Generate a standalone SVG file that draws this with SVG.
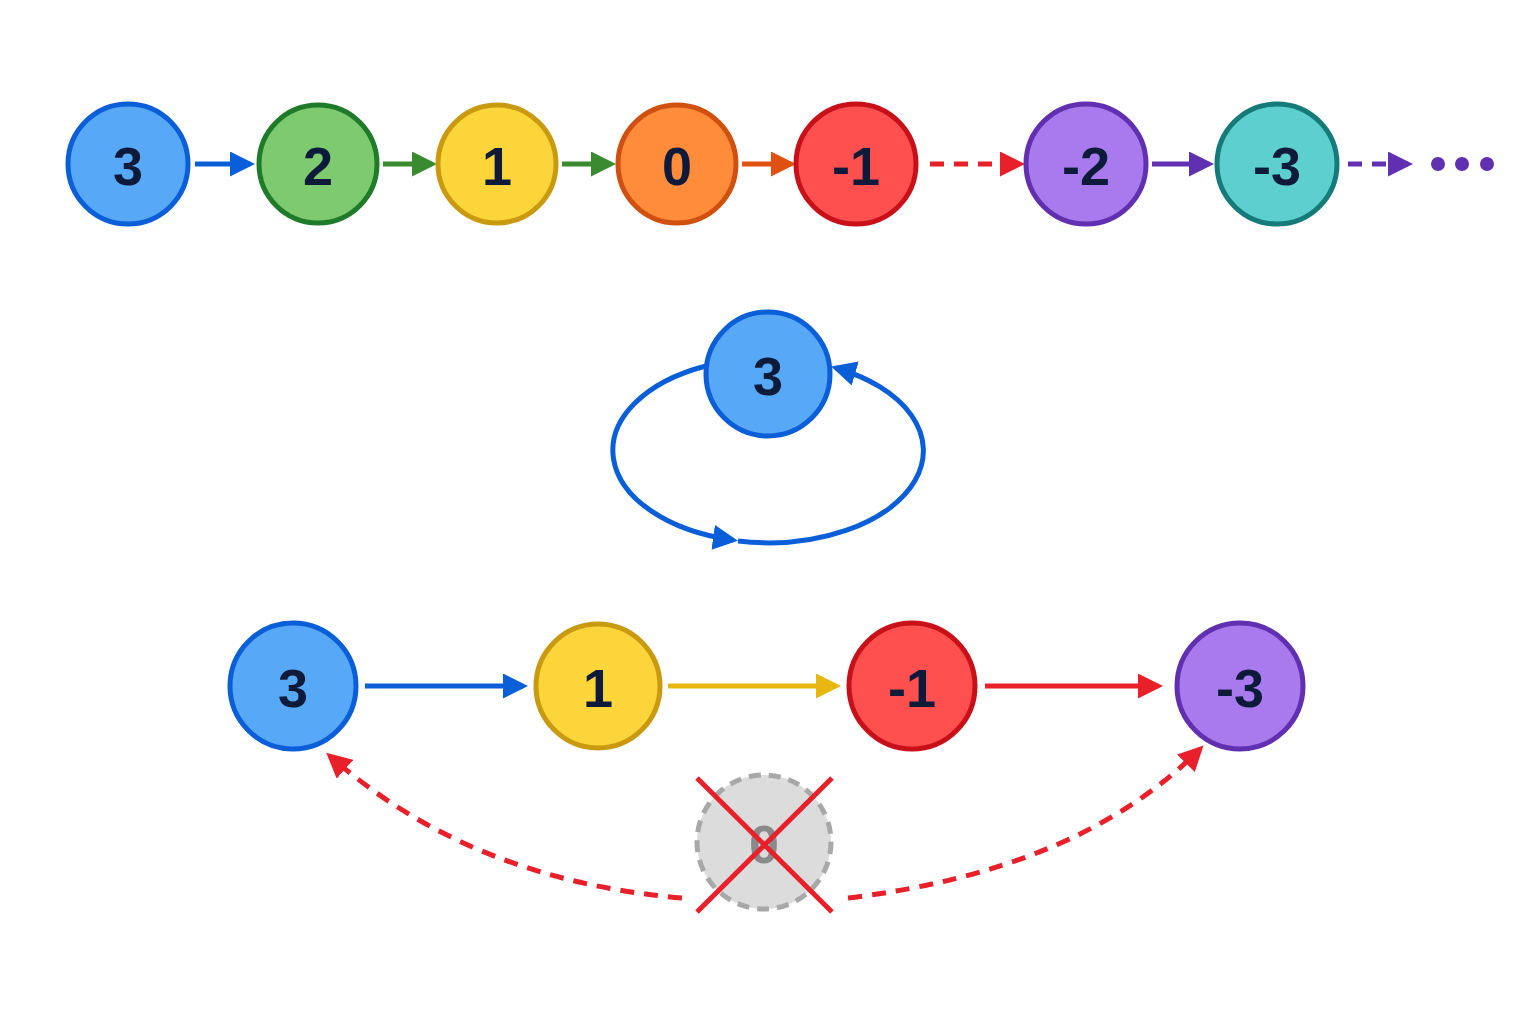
<svg xmlns="http://www.w3.org/2000/svg" width="1536" height="1024" viewBox="0 0 1536 1024">
<style>
circle{stroke-width:5}
text{font-family:"Liberation Sans",Arial,sans-serif;font-weight:bold;font-size:54px;fill:#0d1a3a;text-anchor:middle;dominant-baseline:central}
.c{fill:none;stroke-width:5}
.blue{fill:#58A8F8;stroke:#0A5FD8}.green{fill:#7DCB6E;stroke:#1F7A2A}.yellow{fill:#FBD53A;stroke:#C99A10}
.orange{fill:#FF8C3A;stroke:#D05010}.red{fill:#FF5050;stroke:#C81018}.purple{fill:#A87AEE;stroke:#6030B0}.teal{fill:#5ECFCF;stroke:#147A7A}
</style>
<defs>
<marker id="mb" viewBox="0 0 10 10" refX="8" refY="5" markerWidth="5" markerHeight="5" orient="auto"><path d="M0 0L10 5L0 10z" fill="#0A5FD8"/></marker>
<marker id="mg" viewBox="0 0 10 10" refX="8" refY="5" markerWidth="5" markerHeight="5" orient="auto"><path d="M0 0L10 5L0 10z" fill="#3A8A30"/></marker>
<marker id="mo" viewBox="0 0 10 10" refX="8" refY="5" markerWidth="5" markerHeight="5" orient="auto"><path d="M0 0L10 5L0 10z" fill="#E05010"/></marker>
<marker id="mr" viewBox="0 0 10 10" refX="8" refY="5" markerWidth="5" markerHeight="5" orient="auto"><path d="M0 0L10 5L0 10z" fill="#E8202A"/></marker>
<marker id="mp" viewBox="0 0 10 10" refX="8" refY="5" markerWidth="5" markerHeight="5" orient="auto"><path d="M0 0L10 5L0 10z" fill="#6030B0"/></marker>
<marker id="my" viewBox="0 0 10 10" refX="8" refY="5" markerWidth="5" markerHeight="5" orient="auto"><path d="M0 0L10 5L0 10z" fill="#E8B810"/></marker>
</defs>
<rect width="1536" height="1024" fill="#fff"/>
<g id="connectors">
<path class="c" stroke="#0A5FD8" d="M195 164H250" marker-end="url(#mb)"/>
<path class="c" stroke="#3A8A30" d="M383 164H432" marker-end="url(#mg)"/>
<path class="c" stroke="#3A8A30" d="M562 164H611" marker-end="url(#mg)"/>
<path class="c" stroke="#E05010" d="M742 164H791" marker-end="url(#mo)"/>
<path class="c" stroke="#E8202A" stroke-dasharray="14 10" d="M930 164H1020" marker-end="url(#mr)"/>
<path class="c" stroke="#6030B0" d="M1152 164H1209" marker-end="url(#mp)"/>
<path class="c" stroke="#6030B0" stroke-dasharray="14 10" d="M1348 164H1408" marker-end="url(#mp)"/>
<g fill="#6030B0"><circle cx="1438" cy="164" r="7" stroke="none"/><circle cx="1462" cy="164" r="7" stroke="none"/><circle cx="1487" cy="164" r="7" stroke="none"/></g>
<path class="c" stroke="#0A5FD8" d="M706 366 A155 92 0 0 0 733 540" marker-end="url(#mb)"/>
<path class="c" stroke="#0A5FD8" d="M738 541 A155 92 0 0 0 836 368" marker-end="url(#mb)"/>
<path class="c" stroke="#0A5FD8" d="M365 686H523" marker-end="url(#mb)"/>
<path class="c" stroke="#E8B810" d="M668 686H836" marker-end="url(#my)"/>
<path class="c" stroke="#E8202A" d="M985 686H1158" marker-end="url(#mr)"/>
<path class="c" stroke="#E8202A" stroke-dasharray="14 10" d="M682 898 Q470 880 330 756" marker-end="url(#mr)"/>
<path class="c" stroke="#E8202A" stroke-dasharray="14 10" d="M848 898 Q1080 870 1200 749" marker-end="url(#mr)"/>
</g>
<g id="n3a"><circle class="blue" cx="128" cy="164" r="60"/><text x="128" y="166">3</text></g>
<g id="n2"><circle class="green" cx="318" cy="164" r="59"/><text x="318" y="166">2</text></g>
<g id="n1"><circle class="yellow" cx="497" cy="164" r="59"/><text x="497" y="166">1</text></g>
<g id="n0"><circle class="orange" cx="677" cy="164" r="59"/><text x="677" y="166">0</text></g>
<g id="nm1"><circle class="red" cx="856" cy="164" r="60"/><text x="856" y="166">-1</text></g>
<g id="nm2"><circle class="purple" cx="1086" cy="164" r="60"/><text x="1086" y="166">-2</text></g>
<g id="nm3"><circle class="teal" cx="1277" cy="164" r="60"/><text x="1277" y="166">-3</text></g>
<g id="loop3"><circle class="blue" cx="768" cy="374" r="62"/><text x="768" y="376">3</text></g>
<g id="b3"><circle class="blue" cx="293" cy="686" r="63"/><text x="293" y="688">3</text></g>
<g id="b1"><circle class="yellow" cx="598" cy="686" r="62"/><text x="598" y="688">1</text></g>
<g id="bm1"><circle class="red" cx="912" cy="686" r="63"/><text x="912" y="688">-1</text></g>
<g id="bm3"><circle class="purple" cx="1240" cy="686" r="63"/><text x="1240" y="688">-3</text></g>
<g id="removed0"><circle cx="764" cy="842" r="67" fill="#dcdcdc" stroke="#a8a8a8" stroke-dasharray="12 8" stroke-width="4"/><text x="764" y="844" style="fill:#8a8a8a">0</text>
<path d="M697 778L832 912M832 778L697 912" stroke="#E8202A" stroke-width="5"/></g>
</svg>
